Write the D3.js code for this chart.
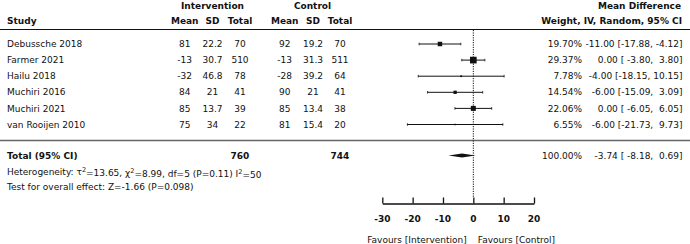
<!DOCTYPE html>
<html>
<head>
<meta charset="utf-8">
<script src="https://cdn.jsdelivr.net/npm/d3@7"></script>
<style>
  body { margin: 0; background: #fff; }
  svg { display: block; font-family: "DejaVu Sans", sans-serif; font-size: 9px; }
  text { fill: #111; }
  .b { font-weight: bold; }
</style>
</head>
<body>
<div id="forest"></div>
<script>
// study data
var studies = ["Debussche 2018", "Farmer 2021", "Hailu 2018", "Muchiri 2016", "Muchiri 2021", "van Rooijen 2010"];
var intMean = [81, -13, -32, 84, 85, 75];
var intSD = ["22.2", "30.7", "46.8", "21", "13.7", "34"];
var intN = [70, 510, 78, 41, 39, 22];
var ctlMean = [92, -13, -28, 90, 85, 81];
var ctlSD = ["19.2", "31.3", "39.2", "21", "13.4", "15.4"];
var ctlN = [70, 511, 64, 41, 38, 20];
var weights = [19.70, 29.37, 7.78, 14.54, 22.06, 6.55];
var md = [-11.00, 0.00, -4.00, -6.00, 0.00, -6.00];
var lower = [-17.88, -3.80, -18.15, -15.09, -6.05, -21.73];
var upper = [-4.12, 3.80, 10.15, 3.09, 6.05, 9.73];

var total = {n1: 760, n2: 744, weight: 100.00, md: -3.74, lower: -8.18, upper: 0.69};
var axisTicks = [-30, -20, -10, 0, 10, 20];

var width = 690, height = 244;

var svg = d3.select("#forest")
    .append("svg")
    .attr("width", width)
    .attr("height", height);

// scales
var x = d3.scaleLinear().domain([-30, 20]).range([382.3, 534]);
var rowY = d3.scaleLinear().domain([0, 1]).range([44, 60.1]);
var boxSize = d3.scaleLinear().domain([0, 30]).range([0, 6.8]);

function fmt(v) { return v.toFixed(2); }
function pad(s, n) { while (s.length < n) s = " " + s; return s; }
function ciText(m, lo, hi) {
    return fmt(m) + " [" + pad(fmt(lo), 6) + ", " + pad(fmt(hi), 5) + "]";
}

// headers
var colX = {mean1: 184.7, sd1: 212.5, n1: 240, mean2: 284.7, sd2: 313, n2: 340, weight: 582, ci: 682.5};

function txt(xp, yp, s, anchor, cls) {
    return svg.append("text")
        .attr("x", xp).attr("y", yp)
        .attr("dy", "0.35em")
        .attr("text-anchor", anchor || "start")
        .attr("class", cls || null)
        .style("white-space", "pre")
        .text(s);
}

txt(212.5, 5.5, "Intervention", "middle", "b");
txt(312.5, 5.5, "Control", "middle", "b");
txt(639.5, 5.5, "Mean Difference", "middle", "b");
txt(7, 21, "Study", "start", "b");
txt(colX.mean1, 21, "Mean", "middle", "b");
txt(colX.sd1, 21, "SD", "middle", "b");
txt(colX.n1, 21, "Total", "middle", "b");
txt(colX.mean2, 21, "Mean", "middle", "b");
txt(colX.sd2, 21, "SD", "middle", "b");
txt(colX.n2, 21, "Total", "middle", "b");
txt(682, 21, "Weight, IV, Random, 95% CI", "end", "b");

svg.append("line")
    .attr("x1", 0).attr("x2", width)
    .attr("y1", 29.5).attr("y2", 29.5)
    .attr("stroke", "#111").attr("stroke-width", 1.2);

svg.append("line")
    .attr("x1", 0).attr("x2", width)
    .attr("y1", 140.5).attr("y2", 140.5)
    .attr("stroke", "#666").attr("stroke-width", 1.4);

// null line
svg.append("line")
    .attr("x1", x(0)).attr("x2", x(0))
    .attr("y1", 30).attr("y2", 197.5)
    .attr("stroke", "#111").attr("stroke-width", 1)
    .attr("stroke-dasharray", "1.2,1.2");

// study rows
studies.forEach(function(s, i) {
    var y = rowY(i);
    txt(7, y, s);
    txt(colX.mean1, y, String(intMean[i]), "middle");
    txt(colX.sd1, y, intSD[i], "middle");
    txt(colX.n1, y, String(intN[i]), "middle");
    txt(colX.mean2, y, String(ctlMean[i]), "middle");
    txt(colX.sd2, y, ctlSD[i], "middle");
    txt(colX.n2, y, String(ctlN[i]), "middle");
    txt(colX.weight, y, fmt(weights[i]) + "%", "end");
    txt(colX.ci, y, ciText(md[i], lower[i], upper[i]), "end");
});

var g = svg.append("g");

g.selectAll("line.ci")
    .data(studies)
    .enter().append("line")
    .attr("class", "ci")
    .attr("x1", function(d, i) { return x(lower[i]); })
    .attr("x2", function(d, i) { return x(upper[i]); })
    .attr("y1", function(d, i) { return rowY(i); })
    .attr("y2", function(d, i) { return rowY(i); })
    .attr("stroke", "#111").attr("stroke-width", 1);

// little caps at whisker ends
[lower, upper].forEach(function(arr) {
    g.selectAll(null)
        .data(studies)
        .enter().append("line")
        .attr("x1", function(d, i) { return x(arr[i]); })
        .attr("x2", function(d, i) { return x(arr[i]); })
        .attr("y1", function(d, i) { return rowY(i) - 1.3; })
        .attr("y2", function(d, i) { return rowY(i) + 1.3; })
        .attr("stroke", "#111").attr("stroke-width", 0.8);
});

g.selectAll("rect.box")
    .data(studies)
    .enter().append("rect")
    .attr("class", "box")
    .attr("x", function(d, i) { return x(md[i]) - boxSize(weights[i]) / 2; })
    .attr("y", function(d, i) { return rowY(i) - boxSize(weights[i]) / 2; })
    .attr("width", function(d, i) { return boxSize(weights[i]); })
    .attr("height", function(d, i) { return boxSize(weights[i]); })
    .attr("fill", "#111");

// total row
var ty = 155.5;
txt(7, ty, "Total (95% CI)", "start", "b");
txt(colX.n1, ty, String(total.n1), "middle", "b");
txt(colX.n2, ty, String(total.n2), "middle", "b");
txt(colX.weight, ty, fmt(total.weight) + "%", "end");
txt(colX.ci, ty, ciText(total.md, total.lower, total.upper), "end");

var dh = 2;
svg.append("path")
    .attr("d", "M" + x(total.lower) + "," + ty +
        "L" + x(total.md) + "," + (ty - dh) +
        "L" + x(total.upper) + "," + ty +
        "L" + x(total.md) + "," + (ty + dh) + "Z")
    .attr("fill", "#111");

// heterogeneity lines
var het = svg.append("text").attr("x", 7).attr("y", 171.5).attr("dy", "0.35em");
het.append("tspan").text("Heterogeneity: τ");
het.append("tspan").attr("dy", "-0.4em").attr("font-size", "6.5px").text("2");
het.append("tspan").attr("dy", "0.4em").text("=13.65, χ");
het.append("tspan").attr("dy", "-0.4em").attr("font-size", "6.5px").text("2");
het.append("tspan").attr("dy", "0.4em").text("=8.99, df=5 (P=0.11) I");
het.append("tspan").attr("dy", "-0.4em").attr("font-size", "6.5px").text("2");
het.append("tspan").attr("dy", "0.4em").text("=50");

txt(7, 186.5, "Test for overall effect: Z=-1.66 (P=0.098)");

// axis
var xAxis = d3.axisTop(x)
    .tickValues(axisTicks)
    .tickSize(6)
    .tickSizeOuter(0)
    .tickFormat("");

var ax = svg.append("g")
    .attr("transform", "translate(0,203.5)")
    .call(xAxis);
ax.select(".domain").attr("stroke", "#111").attr("stroke-width", 1.3);
ax.selectAll(".tick line").attr("stroke", "#111").attr("stroke-width", 1.3);

svg.selectAll("text.tl")
    .data(axisTicks)
    .enter().append("text")
    .attr("class", "tl b")
    .attr("x", function(d) { return x(d); })
    .attr("y", 219)
    .attr("dy", "0.35em")
    .attr("text-anchor", "middle")
    .text(function(d) { return d; });

txt(x(0) - 6.5, 239.5, "Favours [Intervention]", "end");
txt(x(0) + 4.5, 239.5, "Favours [Control]", "start");
</script>
</body>
</html>
